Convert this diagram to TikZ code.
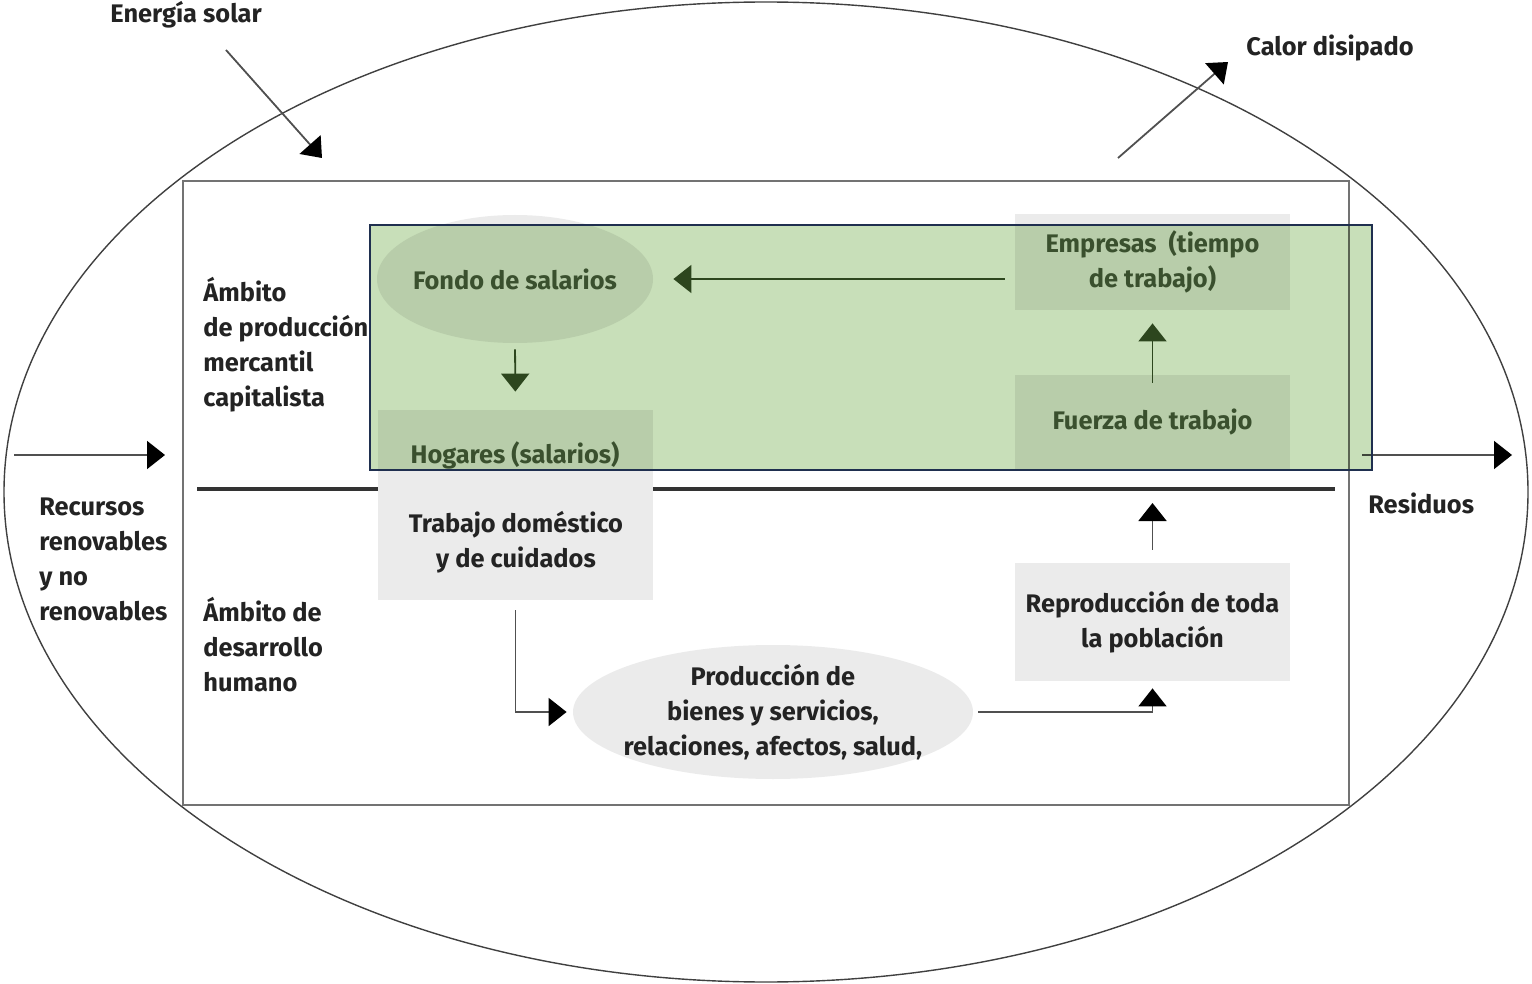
\documentclass[tikz,border=0pt]{standalone}
\usepackage{fontspec}
\setmainfont{Fira Sans}
\usetikzlibrary{arrows.meta,shapes.geometric}
\definecolor{boxgray}{RGB}{235,235,235}
\definecolor{overgreen}{RGB}{200,223,185}
\definecolor{navy}{RGB}{31,47,79}
\definecolor{txtdark}{RGB}{35,35,35}
\definecolor{txtgreen}{RGB}{74,92,64}
\definecolor{arrgreen}{RGB}{45,70,30}
\definecolor{linegray}{RGB}{80,80,80}
\tikzset{
  lbl/.style={font=\bfseries\fontsize{12.7pt}{17.5pt}\selectfont, text=txtdark, inner sep=0pt, align=left, anchor=west},
  ctext/.style={font=\bfseries\fontsize{12.7pt}{17.5pt}\selectfont, text=txtdark, inner sep=0pt, align=center},
  gtext/.style={ctext, text=txtgreen},
  graybox/.style={fill=boxgray, draw=none, inner sep=0pt},
  grayell/.style={ellipse, fill=boxgray, draw=none, inner xsep=-10pt, inner ysep=-6pt},
  tip/.style={-{Triangle[length=9pt,width=14pt,black]}},
  gtip/.style={-{Triangle[length=9pt,width=14pt]}},
  conn/.style={tip, draw=linegray, line width=0.9pt},
  gconn/.style={gtip, draw=arrgreen, line width=0.9pt},
  bigarr/.style={tip, draw=linegray, line width=0.9pt},
}
\begin{document}
\begin{tikzpicture}[x=0.5pt,y=-0.5pt]
\useasboundingbox (0,0) rectangle (1532,984);
% outer ellipse and system rectangle
\node[ellipse, draw=black!75, line width=0.7pt, minimum width=762pt, minimum height=490pt, inner sep=0pt] (earth) at (766,492) {};
\node[draw=black!55, line width=0.9pt, minimum width=583pt, minimum height=312pt, inner sep=0pt] (sys) at (766,493) {};
\coordinate (divL) at (197,489);
\coordinate (divR) at (1335,489);
\draw[line width=1.8pt, draw=black!80] (divL) -- (divR);

% gray shapes
\node[gtext, grayell, minimum width=138pt, minimum height=64pt] (fondo) at (515,279) {Fondo de salarios};
\node[graybox, minimum width=137.5pt, minimum height=95pt] (hog) at (515.5,505) {};
\node[gtext, graybox, minimum width=137.5pt, minimum height=48pt] (emp) at (1152.5,262) {Empresas \ (tiempo\\de trabajo)};
\node[gtext, graybox, minimum width=137.5pt, minimum height=47.5pt] (fuer) at (1152.5,422.5) {Fuerza de trabajo};
\node[ctext, graybox, minimum width=137.5pt, minimum height=59pt] (repro) at (1152.5,622) {Reproducción de toda\\la población};
\node[ctext, grayell, minimum width=200pt, minimum height=67pt] (prod) at (773,712) {Producción de\\bienes y servicios,\\relaciones, afectos, salud,};
\node[gtext] (hogt) at (515,455) {Hogares (salarios)};
\node[ctext] (trab) at (516,542) {Trabajo doméstico\\y de cuidados};

% labels
\node[lbl] (energ) at (110,15) {Energía solar};
\node[lbl] (calor) at (1246,48) {Calor disipado};
\node[lbl] (recur) at (39,559.5) {Recursos\\renovables\\y no\\renovables};
\node[lbl] (resid) at (1368,503) {Residuos};
\node[lbl] (ambp) at (203,344.5) {Ámbito\\de producción\\mercantil\\capitalista};
\node[lbl] (ambd) at (203,645) {Ámbito de\\desarrollo\\humano};

% flow arrows outside
\coordinate (solA) at (226,50);
\coordinate (solB) at (322,158);
\coordinate (calA) at (1118,158);
\coordinate (calB) at (1228,62);
\coordinate (recA) at (14,455);
\coordinate (recB) at (165,455);
\coordinate (resA) at (1362,455);
\coordinate (resB) at (1512,455);
\draw[bigarr] (solA) -- (solB);
\draw[bigarr] (calA) -- (calB);
\draw[bigarr] (recA) -- (recB);
\draw[bigarr] (resA) -- (resB);

% lower connectors
\draw[conn, shorten <=5pt, shorten >=3pt] (hog.south) -- (hog.south |- prod.west) -- (prod.west);
\draw[conn, shorten <=2.5pt, shorten >=3.5pt] (prod.east) -- (repro.south |- prod.east) -- (repro.south);
\draw[conn, shorten <=6.5pt, shorten >=7pt] (repro.north) -- (repro.north |- divL);

% green overlay
\coordinate (gNW) at (370,225);
\coordinate (gSE) at (1372,470);
\begin{scope}[blend mode=multiply]
\fill[overgreen] (gNW) rectangle (gSE);
\end{scope}
\draw[gconn, shorten <=3pt, shorten >=9pt] (fondo.south) -- (hog.north);
\draw[gconn, shorten <=5pt, shorten >=10pt] (emp.west |- fondo.east) -- (fondo.east);
\draw[gconn, shorten <=-4pt, shorten >=6.5pt] (fuer.north) -- (emp.south);
\draw[navy, line width=1.1pt] (gNW) rectangle (gSE);
\end{tikzpicture}
\end{document}
